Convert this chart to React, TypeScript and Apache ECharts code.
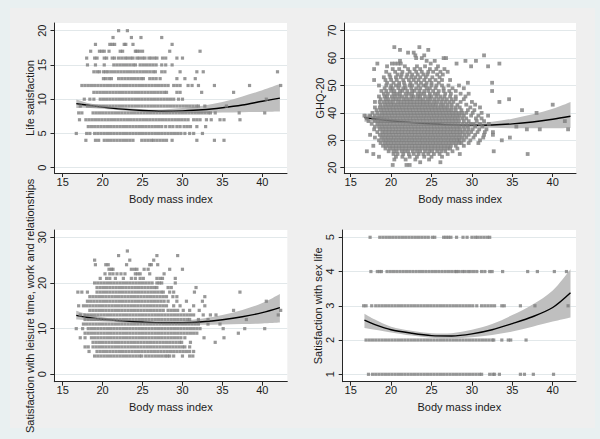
import React, { useEffect, useRef } from "react";
import * as echarts from "echarts";

// ---------- tick labels ----------
const bmiTicks = [15, 20, 25, 30, 35, 40];
const lifeTicks = [0, 5, 10, 15, 20];
const ghqTicks = [20, 30, 40, 50, 60, 70];
const leisureTicks = [0, 10, 20, 30];
const sexTicks = [1, 2, 3, 4, 5];

// ---------- quadratic fit + 95% CI ----------
const fitX = [16.7, 18, 20, 22.5, 25, 27.5, 30, 32.5, 35, 37.5, 40, 42.2];

const lifeFit = [9.35, 9.15, 8.85, 8.55, 8.35, 8.25, 8.3, 8.45, 8.75, 9.15, 9.7, 10.15];
const lifeUpper = [9.95, 9.5, 9.1, 8.75, 8.55, 8.5, 8.7, 9.05, 9.6, 10.4, 11.3, 12.2];
const lifeLower = [8.7, 8.75, 8.6, 8.35, 8.15, 8.05, 8.0, 8.0, 8.05, 8.1, 8.15, 8.2];

const ghqFit = [38.3, 37.8, 37.1, 36.5, 36.0, 35.6, 35.5, 35.6, 36.0, 36.7, 37.7, 38.8];
const ghqUpper = [39.8, 38.9, 37.8, 37.0, 36.4, 36.1, 36.2, 36.8, 37.9, 39.5, 41.5, 44.0];
const ghqLower = [36.8, 36.7, 36.4, 36.0, 35.6, 35.2, 34.8, 34.6, 34.4, 34.4, 34.4, 34.5];

const leisureFit = [12.9, 12.5, 12.05, 11.7, 11.45, 11.3, 11.3, 11.5, 11.95, 12.6, 13.5, 14.6];
const leisureUpper = [13.9, 13.2, 12.5, 12.0, 11.75, 11.65, 11.75, 12.2, 13.0, 14.1, 15.6, 17.6];
const leisureLower = [12.0, 11.85, 11.6, 11.35, 11.15, 10.95, 10.85, 10.85, 10.9, 11.0, 11.15, 11.35];

const sexFit = [2.58, 2.45, 2.3, 2.2, 2.13, 2.12, 2.18, 2.3, 2.48, 2.68, 2.95, 3.38];
const sexUpper = [2.77, 2.6, 2.39, 2.27, 2.2, 2.2, 2.3, 2.47, 2.73, 3.04, 3.45, 4.07];
const sexLower = [2.35, 2.3, 2.22, 2.13, 2.07, 2.05, 2.08, 2.15, 2.25, 2.39, 2.54, 2.66];

// ---------- observations: [score, BMI values] ----------
const lifeRows: [number, number[]][] = [
  [20, [22.0, 23.1]],
  [19, [21.3, 23.6, 24.8, 27.4]],
  [18, [19.1, 20.9, 21.2, 21.5, 22.7, 22.9, 23.8, 28.7]],
  [17, [18.5, 19.6, 19.9, 20.2, 20.8, 22.2, 22.5, 24.1, 24.3, 24.6, 25.0, 28.4, 32.2]],
  [16, [18.0, 19.0, 19.3, 20.2, 20.5, 21.2, 21.5, 22.0, 22.4, 22.8, 23.1, 23.5, 23.8, 24.3, 24.6, 25.0, 25.3, 25.8, 26.1, 26.5, 26.8, 27.5, 27.9, 29.3, 30.0]],
  [15, [18.1, 19.1, 20.2, 21.4, 21.8, 22.2, 22.6, 23.0, 23.4, 23.8, 24.1, 24.7, 25.1, 25.5, 25.9, 26.3, 26.7, 27.4, 27.9, 28.7]],
  [14, [18.9, 19.3, 19.6, 20.1, 20.4, 20.7, 21.1, 21.5, 21.9, 22.3, 22.7, 23.1, 23.5, 23.9, 24.3, 24.7, 25.1, 25.5, 25.9, 26.3, 26.6, 27.4, 27.8, 29.7, 31.8, 32.6, 41.9]],
  [13, [20.1, 20.4, 20.8, 21.1, 22.0, 22.4, 22.8, 23.2, 23.6, 24.0, 24.4, 24.8, 25.1, 25.9, 26.3, 26.7, 27.2, 29.3, 30.3, 31.6]],
  [12, [17.4, 17.8, 18.2, 18.6, 19.0, 19.4, 19.8, 20.2, 20.6, 21.0, 21.4, 21.8, 22.2, 22.6, 23.0, 23.4, 23.8, 24.2, 24.6, 25.0, 25.4, 25.8, 26.2, 26.6, 27.0, 27.4, 27.8, 28.2, 28.9, 29.3, 29.7, 30.7, 31.2, 32.0, 34.0, 38.4, 42.3]],
  [11, [18.9, 19.3, 19.7, 20.1, 20.5, 20.9, 21.3, 21.7, 22.1, 22.5, 22.9, 23.3, 23.7, 24.1, 24.5, 24.9, 25.3, 25.7, 26.1, 26.5, 26.9, 27.3, 27.7, 28.0, 29.3, 29.7, 32.4, 36.4]],
  [10, [17.7, 18.4, 18.9, 19.7, 20.1, 20.5, 20.9, 21.3, 21.7, 22.1, 22.5, 22.9, 23.3, 23.7, 24.1, 24.5, 24.9, 25.3, 25.7, 26.1, 26.5, 26.9, 27.3, 27.7, 28.1, 28.5, 28.9, 29.5, 30.0, 40.5]],
  [9, [17.2, 18.1, 18.5, 18.9, 19.3, 19.7, 20.1, 20.5, 20.9, 21.3, 21.7, 22.1, 22.5, 22.9, 23.3, 23.7, 24.1, 24.5, 24.9, 25.3, 25.7, 26.1, 26.5, 26.9, 27.3, 27.7, 28.1, 28.5, 28.9, 29.3, 29.7, 30.1, 30.5, 30.9, 31.3, 31.7, 32.0, 32.8, 35.5]],
  [8, [17.0, 17.4, 18.8, 19.2, 19.6, 20.0, 20.4, 20.8, 21.2, 21.6, 22.0, 22.4, 22.8, 23.2, 23.6, 24.0, 24.4, 24.8, 25.2, 25.6, 26.0, 26.4, 26.8, 27.2, 27.6, 28.0, 28.4, 28.8, 29.2, 29.6, 30.0, 30.4, 30.8, 31.2, 31.6, 32.0, 32.4, 32.8, 33.2, 33.5, 34.1, 37.1, 40.3]],
  [7, [17.1, 17.9, 18.3, 18.7, 19.1, 19.5, 19.9, 20.3, 20.7, 21.1, 21.5, 21.9, 22.3, 22.7, 23.1, 23.5, 23.9, 24.3, 24.7, 25.1, 25.5, 25.9, 26.3, 26.7, 27.1, 27.5, 27.9, 28.3, 28.7, 29.1, 29.5, 29.9, 30.3, 30.7, 31.4, 31.8, 32.2, 33.0, 33.6, 34.7, 35.2, 37.2]],
  [6, [18.2, 18.6, 19.0, 19.4, 19.8, 20.2, 20.6, 21.0, 21.4, 21.8, 22.2, 22.6, 23.0, 23.4, 23.8, 24.2, 24.6, 25.0, 25.4, 25.8, 26.2, 26.6, 27.0, 27.4, 27.9, 28.4, 28.8, 29.3, 29.7, 30.2, 30.6, 31.0, 31.8, 32.9]],
  [5, [16.7, 18.0, 18.4, 19.0, 19.4, 19.8, 20.2, 20.6, 21.0, 21.4, 21.8, 22.2, 22.6, 23.0, 23.4, 23.8, 24.2, 24.6, 25.0, 25.4, 25.8, 26.2, 26.6, 27.0, 27.4, 27.8, 28.2, 28.6, 29.0, 29.4, 29.8, 30.3, 30.9, 31.4, 32.5]],
  [4, [17.9, 19.1, 19.5, 20.2, 20.6, 21.0, 21.4, 21.8, 22.2, 22.6, 23.0, 23.4, 23.8, 24.9, 25.3, 25.7, 26.1, 26.4, 26.8, 27.2, 27.6, 28.0, 28.7, 31.8, 34.0, 35.2]],
];

const ghqRows: [number, number[]][] = [
  [64, [20.4, 23.5]],
  [63, [21.1, 24.6]],
  [62, [22.1, 22.8]],
  [61, [23.0, 24.1, 31.5]],
  [60, [23.1, 23.8, 26.5, 26.8]],
  [59, [21.1, 24.4, 25.4, 29.2, 30.5]],
  [58, [18.3, 20.1, 20.5, 20.9, 21.2, 24.9, 28.1, 33.4]],
  [57, [19.5, 21.7, 23.2, 24.2, 25.8, 29.9, 32.0]],
  [56, [17.9, 20.2, 21.0, 22.1, 22.9, 23.6, 24.8, 25.6, 26.6]],
  [55, [19.4, 20.5, 21.4, 22.3, 23.1, 23.8, 24.6, 25.2, 26.1, 27.0]],
  [54, [19.8, 20.8, 21.3, 22.0, 22.6, 23.3, 24.0, 24.5, 25.7, 26.4]],
  [53, [19.1, 19.9, 20.6, 21.2, 21.9, 22.5, 23.0, 23.6, 24.3, 25.1, 26.0]],
  [52, [17.9, 19.3, 20.0, 20.7, 21.5, 22.2, 22.8, 23.4, 24.1, 24.8, 25.5, 26.3, 27.3]],
  [51, [19.5, 20.3, 21.0, 21.6, 22.4, 23.1, 23.7, 24.4, 25.0, 25.9, 29.5, 32.5]],
  [50, [18.5, 19.4, 20.0, 20.6, 21.0, 21.7, 22.3, 22.6, 23.4, 24.0, 24.3, 25.0, 25.6, 26.3, 27.1, 28.4]],
  [49, [19.2, 19.9, 20.2, 20.9, 21.5, 21.8, 22.5, 23.1, 23.6, 24.4, 24.8, 25.5, 26.5, 27.6, 29.0]],
  [48, [18.8, 19.4, 20.0, 20.4, 21.1, 21.4, 22.0, 22.6, 22.9, 23.5, 24.1, 24.6, 25.2, 25.9, 26.5, 27.2, 28.0, 32.5]],
  [47, [19.1, 19.6, 20.3, 20.7, 21.1, 21.8, 22.2, 22.6, 23.3, 23.7, 24.1, 24.8, 25.4, 25.8, 26.7, 27.4, 28.6, 29.6]],
  [46, [18.5, 19.2, 19.5, 20.1, 20.5, 21.0, 21.4, 21.9, 22.5, 22.8, 23.3, 23.6, 24.2, 24.7, 25.0, 25.6, 26.1, 26.6, 27.3, 28.0, 29.2]],
  [45, [18.7, 19.3, 19.7, 20.2, 20.6, 21.0, 21.5, 21.9, 22.3, 22.7, 23.2, 23.6, 24.0, 24.5, 24.9, 25.4, 25.9, 26.4, 26.9, 27.5, 28.0, 29.0, 34.6]],
  [44, [18.0, 18.6, 19.1, 19.5, 19.9, 20.3, 20.8, 21.2, 21.6, 22.0, 22.4, 22.8, 23.2, 23.6, 24.0, 24.4, 24.8, 25.3, 25.7, 26.2, 26.7, 27.2, 27.7, 28.6, 30.0, 33.4]],
  [43, [18.7, 19.2, 19.6, 20.0, 20.4, 20.8, 21.2, 21.6, 22.0, 22.4, 22.8, 23.2, 23.6, 24.0, 24.4, 24.8, 25.2, 25.6, 26.1, 26.5, 27.0, 27.5, 28.2, 29.3, 30.4, 40.0]],
  [42, [18.0, 18.6, 19.0, 19.4, 19.8, 20.2, 20.6, 21.0, 21.4, 21.8, 22.2, 22.6, 23.0, 23.4, 23.8, 24.2, 24.6, 25.0, 25.4, 25.8, 26.2, 26.6, 27.0, 27.5, 28.0, 28.5, 29.8, 31.0]],
  [41, [18.2, 18.7, 19.1, 19.5, 19.9, 20.3, 20.7, 21.1, 21.5, 21.9, 22.3, 22.7, 23.1, 23.5, 23.9, 24.3, 24.7, 25.1, 25.5, 25.9, 26.3, 26.7, 27.1, 27.5, 28.0, 28.7, 29.5, 30.3, 36.2]],
  [40, [17.7, 18.3, 18.8, 19.2, 19.6, 20.0, 20.4, 20.8, 21.2, 21.6, 22.0, 22.4, 22.8, 23.2, 23.6, 24.0, 24.4, 24.8, 25.2, 25.6, 26.0, 26.4, 26.8, 27.2, 27.6, 28.0, 28.4, 28.8, 29.3, 30.1, 31.2, 38.0]],
  [39, [16.7, 17.4, 18.0, 18.5, 18.9, 19.3, 19.7, 20.1, 20.5, 20.9, 21.3, 21.7, 22.1, 22.5, 22.9, 23.3, 23.7, 24.1, 24.5, 24.9, 25.3, 25.7, 26.1, 26.5, 26.9, 27.3, 27.7, 28.1, 28.5, 29.0, 29.9, 30.8, 32.0]],
  [38, [17.0, 17.8, 18.3, 18.7, 19.1, 19.5, 19.9, 20.3, 20.7, 21.1, 21.5, 21.9, 22.3, 22.7, 23.1, 23.5, 23.9, 24.3, 24.7, 25.1, 25.5, 25.9, 26.3, 26.7, 27.1, 27.5, 27.9, 28.3, 28.8, 29.3, 30.5, 31.2]],
  [37, [17.2, 18.0, 18.4, 18.8, 19.2, 19.6, 20.0, 20.4, 20.8, 21.2, 21.6, 22.0, 22.4, 22.8, 23.2, 23.6, 24.0, 24.4, 24.8, 25.2, 25.6, 26.0, 26.4, 26.8, 27.2, 27.6, 28.0, 28.4, 29.0, 29.6, 30.6, 31.5, 41.5]],
  [36, [17.6, 18.3, 18.7, 19.1, 19.5, 19.9, 20.3, 20.7, 21.1, 21.5, 21.9, 22.3, 22.7, 23.1, 23.5, 23.9, 24.3, 24.7, 25.1, 25.5, 25.9, 26.3, 26.7, 27.1, 27.5, 27.9, 28.3, 28.8, 29.3, 29.8, 30.2, 31.0, 32.1]],
  [35, [18.0, 18.5, 18.9, 19.3, 19.7, 20.1, 20.5, 20.9, 21.3, 21.7, 22.1, 22.5, 22.9, 23.3, 23.7, 24.1, 24.5, 24.9, 25.3, 25.7, 26.1, 26.5, 26.9, 27.3, 27.7, 28.1, 28.5, 29.0, 29.5, 30.4, 31.3, 35.5]],
  [34, [17.9, 18.6, 19.0, 19.4, 19.8, 20.2, 20.6, 21.0, 21.4, 21.8, 22.2, 22.6, 23.0, 23.4, 23.8, 24.2, 24.6, 25.0, 25.4, 25.8, 26.2, 26.6, 27.0, 27.4, 27.8, 28.2, 28.6, 29.1, 29.6, 30.1, 30.9, 31.8, 36.8, 38.4, 41.9]],
  [33, [18.3, 18.9, 19.3, 19.7, 20.1, 20.5, 20.9, 21.3, 21.7, 22.1, 22.5, 22.9, 23.3, 23.7, 24.1, 24.5, 24.9, 25.3, 25.7, 26.1, 26.5, 26.9, 27.3, 27.7, 28.1, 28.5, 28.9, 29.4, 29.9, 30.7, 31.6, 32.6]],
  [32, [17.4, 18.6, 19.0, 19.4, 19.8, 20.2, 20.6, 21.0, 21.4, 21.8, 22.2, 22.6, 23.0, 23.4, 23.8, 24.2, 24.6, 25.0, 25.4, 25.8, 26.2, 26.6, 27.0, 27.4, 27.8, 28.2, 28.6, 29.1, 29.6, 30.4, 31.5, 32.6]],
  [31, [18.0, 18.8, 19.2, 19.6, 20.0, 20.4, 20.8, 21.2, 21.6, 22.0, 22.4, 22.8, 23.2, 23.6, 24.0, 24.4, 24.8, 25.2, 25.6, 26.0, 26.4, 26.8, 27.2, 27.6, 28.0, 28.4, 28.8, 29.3, 30.2, 31.4, 34.7]],
  [30, [18.5, 19.0, 19.4, 19.8, 20.2, 20.6, 21.0, 21.4, 21.8, 22.2, 22.6, 23.0, 23.4, 23.8, 24.2, 24.6, 25.0, 25.4, 25.8, 26.2, 26.6, 27.0, 27.4, 27.8, 28.2, 28.5, 29.0, 29.8, 31.0, 33.7]],
  [29, [18.7, 19.2, 19.6, 20.0, 20.4, 20.8, 21.2, 21.6, 22.0, 22.4, 22.8, 23.2, 23.6, 24.0, 24.4, 24.8, 25.2, 25.6, 26.0, 26.4, 26.8, 27.2, 27.6, 28.0, 28.4, 28.7, 29.6, 30.8]],
  [28, [17.8, 19.0, 19.4, 19.8, 20.2, 20.6, 21.0, 21.4, 21.8, 22.2, 22.6, 23.0, 23.4, 23.8, 24.2, 24.6, 25.0, 25.4, 25.8, 26.2, 26.6, 27.0, 27.4, 28.0, 29.0]],
  [27, [19.3, 19.8, 20.2, 20.6, 21.0, 21.4, 21.8, 22.2, 22.6, 23.0, 23.4, 23.8, 24.2, 24.6, 25.0, 25.4, 25.8, 26.2, 26.6, 27.0, 27.3, 28.2]],
  [26, [17.0, 19.7, 20.3, 20.7, 21.3, 21.7, 22.1, 22.7, 23.2, 23.6, 24.2, 24.7, 25.1, 25.7, 26.2, 26.7, 27.6, 32.7]],
  [25, [17.8, 20.3, 20.8, 21.5, 22.2, 22.8, 23.4, 24.0, 24.6, 25.3, 26.0, 27.0, 28.5, 36.9]],
  [24, [18.5, 20.6, 21.4, 22.3, 23.2, 24.1, 25.0, 26.3]],
  [23, [20.4, 21.8, 23.0, 24.7]],
  [22, [23.6, 26.1]],
  [21, [20.2, 21.9, 22.3]],
];

const leisureRows: [number, number[]][] = [
  [27, [23.1]],
  [26, [22.0, 26.8, 29.4]],
  [25, [19.0, 23.4, 26.4]],
  [24, [19.1, 20.4, 20.7, 23.0, 25.9, 26.1, 26.9]],
  [23, [20.8, 21.1, 21.3, 23.6, 24.0, 24.3, 25.2, 25.7, 28.4, 30.0]],
  [22, [20.3, 20.9, 21.3, 21.8, 22.3, 22.8, 24.1, 24.4, 24.7, 25.9, 27.7]],
  [21, [19.7, 20.5, 20.9, 21.6, 22.6, 23.6, 24.1, 24.7, 25.1, 26.8, 27.2, 27.5, 29.1]],
  [20, [19.0, 19.4, 19.8, 20.2, 20.6, 21.0, 21.4, 21.8, 22.2, 22.6, 23.0, 23.4, 23.8, 24.2, 24.6, 25.0, 25.4, 25.8, 26.2, 26.8, 27.1, 27.4, 29.1]],
  [19, [19.3, 19.7, 20.1, 20.5, 20.9, 21.3, 21.7, 22.1, 22.5, 22.9, 23.3, 23.7, 24.1, 24.5, 24.9, 25.3, 25.7, 26.1, 26.5, 26.8, 28.2, 28.6, 31.7]],
  [18, [16.9, 17.4, 18.1, 19.3, 19.7, 20.1, 20.5, 20.9, 21.3, 21.7, 22.1, 22.5, 22.9, 23.3, 23.7, 24.1, 24.5, 24.9, 25.3, 25.7, 26.1, 26.5, 26.9, 27.3, 27.6, 28.4, 28.9, 31.5, 37.2]],
  [17, [18.4, 18.8, 19.2, 19.6, 20.0, 20.4, 20.8, 21.2, 21.6, 22.0, 22.4, 22.8, 23.2, 23.6, 24.0, 24.4, 24.8, 25.2, 25.6, 26.0, 26.4, 26.8, 27.2, 27.6, 28.0, 28.8, 29.3, 32.8]],
  [16, [18.1, 18.5, 18.9, 19.3, 19.7, 20.1, 20.5, 20.9, 21.3, 21.7, 22.1, 22.5, 22.9, 23.3, 23.7, 24.1, 24.5, 24.9, 25.3, 25.7, 26.1, 26.5, 26.9, 27.3, 27.7, 28.2, 29.3, 30.5, 32.5, 40.5]],
  [15, [17.0, 17.6, 18.0, 18.4, 18.8, 19.2, 19.6, 20.0, 20.4, 20.8, 21.2, 21.6, 22.0, 22.4, 22.8, 23.2, 23.6, 24.0, 24.4, 24.8, 25.2, 25.6, 26.0, 26.4, 26.8, 27.2, 27.6, 28.0, 28.9, 29.7, 31.4, 32.8]],
  [14, [18.4, 18.8, 19.2, 19.6, 20.0, 20.4, 20.8, 21.2, 21.6, 22.0, 22.4, 22.8, 23.2, 23.6, 24.0, 24.4, 24.8, 25.2, 25.6, 26.0, 26.4, 26.8, 27.2, 27.6, 28.2, 28.6, 29.0, 29.4, 30.1, 30.9, 32.1, 36.4, 42.3]],
  [13, [17.2, 17.8, 18.2, 18.6, 19.0, 19.4, 19.8, 20.2, 20.6, 21.0, 21.4, 21.8, 22.2, 22.6, 23.0, 23.4, 23.8, 24.2, 24.6, 25.0, 25.4, 25.8, 26.2, 26.6, 27.0, 27.4, 27.8, 28.2, 28.6, 29.0, 29.4, 29.8, 30.2, 30.6, 31.0, 31.4, 32.6, 33.5, 34.2, 42.0]],
  [12, [17.8, 18.2, 18.6, 19.0, 19.4, 19.8, 20.2, 20.6, 21.0, 21.4, 21.8, 22.2, 22.6, 23.0, 23.4, 23.8, 24.2, 24.6, 25.0, 25.4, 25.8, 26.2, 26.6, 27.0, 27.4, 27.8, 28.2, 28.6, 29.0, 29.4, 29.8, 30.2, 30.6, 30.9, 32.0, 33.2, 38.0]],
  [11, [17.6, 18.0, 18.4, 18.8, 19.2, 19.6, 20.0, 20.4, 20.8, 21.2, 21.6, 22.0, 22.4, 22.8, 23.2, 23.6, 24.0, 24.4, 24.8, 25.2, 25.6, 26.0, 26.4, 26.8, 27.2, 27.6, 28.0, 28.4, 28.8, 29.2, 29.6, 30.0, 30.4, 30.8, 31.2, 31.6, 32.0, 33.2, 34.7]],
  [10, [16.7, 17.5, 18.2, 18.6, 19.0, 19.4, 19.8, 20.2, 20.6, 21.0, 21.4, 21.8, 22.2, 22.6, 23.0, 23.4, 23.8, 24.2, 24.6, 25.0, 25.4, 25.8, 26.2, 26.6, 27.0, 27.4, 27.8, 28.2, 28.6, 29.0, 29.4, 29.8, 30.2, 30.6, 31.0, 31.4, 31.8, 32.2, 35.1, 37.8, 40.3]],
  [9, [17.8, 18.2, 18.6, 19.0, 19.4, 19.8, 20.2, 20.6, 21.0, 21.4, 21.8, 22.2, 22.6, 23.0, 23.4, 23.8, 24.2, 24.6, 25.0, 25.4, 25.8, 26.2, 26.6, 27.0, 27.4, 27.8, 28.2, 28.6, 29.0, 29.4, 29.8, 30.2, 30.6, 31.0, 31.4, 31.8, 37.0]],
  [8, [17.2, 17.8, 18.6, 19.0, 19.4, 19.8, 20.2, 20.6, 21.0, 21.4, 21.8, 22.2, 22.6, 23.0, 23.4, 23.8, 24.2, 24.6, 25.0, 25.4, 25.8, 26.2, 26.6, 27.0, 27.4, 27.8, 28.2, 28.6, 29.0, 29.4, 29.8, 30.3, 32.7, 35.2]],
  [7, [18.8, 19.2, 19.6, 20.0, 20.4, 20.8, 21.2, 21.6, 22.0, 22.4, 22.8, 23.2, 23.6, 24.0, 24.4, 24.8, 25.2, 25.6, 26.0, 26.4, 26.8, 27.2, 27.6, 28.0, 28.4, 28.8, 29.2, 29.6, 29.9, 31.0, 34.1]],
  [6, [17.8, 18.2, 18.8, 19.2, 19.6, 20.0, 20.4, 20.8, 21.2, 21.6, 22.0, 22.4, 22.8, 23.2, 23.6, 24.0, 24.4, 24.8, 25.2, 25.6, 26.0, 26.4, 26.8, 27.2, 27.6, 28.0, 28.4, 28.8, 29.2, 29.6, 30.0, 30.3, 30.9]],
  [5, [18.3, 19.3, 19.7, 20.1, 20.5, 20.9, 21.3, 21.7, 22.1, 22.5, 22.9, 23.3, 23.7, 24.1, 24.5, 24.9, 25.3, 25.7, 26.1, 26.5, 26.9, 27.3, 27.7, 28.1, 28.5, 28.9, 29.3, 29.7, 30.1, 30.5, 30.9, 31.4]],
  [4, [19.0, 19.4, 19.8, 20.2, 20.6, 21.0, 21.4, 21.8, 22.2, 22.6, 23.0, 23.4, 23.8, 24.2, 24.6, 24.9, 25.4, 25.8, 26.2, 26.6, 27.0, 27.4, 27.8, 28.1, 28.4, 28.9, 30.0, 30.9, 31.3]],
];

const sexRows: [number, number[]][] = [
  [5, [17.4, 18.6, 19.0, 19.4, 19.8, 20.2, 20.6, 21.0, 21.4, 21.8, 22.2, 22.6, 23.0, 23.4, 23.8, 24.2, 24.6, 25.1, 25.4, 26.5, 26.8, 27.1, 27.4, 28.1, 28.9, 29.4, 30.0, 30.4, 30.7, 31.1, 31.5, 31.9, 32.2]],
  [4, [17.5, 18.3, 18.6, 18.8, 19.5, 19.9, 20.3, 20.7, 21.1, 21.5, 21.9, 22.3, 22.7, 23.1, 23.5, 23.9, 24.3, 24.7, 25.1, 25.5, 25.9, 26.3, 26.7, 27.1, 27.5, 27.9, 28.1, 28.4, 28.8, 29.1, 29.5, 29.8, 30.2, 30.6, 31.2, 31.6, 32.2, 32.5, 33.8, 36.9, 38.1, 40.2, 41.7]],
  [3, [16.6, 16.9, 17.6, 18.1, 18.5, 18.9, 19.3, 19.7, 20.1, 20.5, 20.9, 21.3, 21.7, 22.1, 22.5, 22.9, 23.3, 23.7, 24.1, 24.5, 24.9, 25.3, 25.7, 26.1, 26.5, 26.9, 27.3, 27.7, 28.1, 28.5, 28.9, 29.3, 29.7, 30.1, 30.6, 31.2, 31.6, 32.0, 32.4, 32.8, 33.7, 34.0, 36.0, 37.8, 41.9]],
  [2, [16.9, 17.3, 17.7, 18.1, 18.5, 18.9, 19.3, 19.7, 20.1, 20.5, 20.9, 21.3, 21.7, 22.1, 22.5, 22.9, 23.3, 23.7, 24.1, 24.5, 24.9, 25.3, 25.7, 26.1, 26.5, 26.9, 27.3, 27.7, 28.1, 28.5, 28.9, 29.3, 29.7, 30.1, 30.5, 30.9, 31.3, 31.7, 32.1, 32.5, 32.7, 33.7, 34.5, 34.8, 36.7]],
  [1, [17.2, 17.7, 18.1, 18.5, 18.9, 19.3, 19.7, 20.1, 20.5, 20.9, 21.3, 21.7, 22.1, 22.5, 22.9, 23.3, 23.7, 24.1, 24.5, 24.9, 25.3, 25.7, 26.1, 26.5, 26.9, 27.3, 27.7, 28.1, 28.5, 28.9, 29.3, 29.7, 30.1, 30.5, 30.9, 31.2, 32.2, 32.6, 32.8, 33.4, 36.0, 36.5, 37.6, 40.1]],
];

// ---------- layout / style ----------
const FONT = "'Liberation Sans', Arial, Helvetica, sans-serif";
const TEXT = "#1c1c1c";
const AXIS = "#262626";
const MARK = "#7e7e7e";
const BAND = "#bfbfbf";
const GRIDLINE = "#e2e8ea";

type Panel = {
  grid: { left: number; top: number; width: number; height: number };
  x: [number, number];
  y: [number, number];
  yTicks: number[];
  yName: string;
  rows: [number, number[]][];
  fit: number[];
  upper: number[];
  lower: number[];
  markSize: number;
};

const panels: Panel[] = [
  {
    grid: { left: 54.5, top: 23, width: 232.5, height: 150 },
    x: [13.97, 43.09], y: [-0.77, 21.12], yTicks: lifeTicks,
    yName: "Life satisfaction", rows: lifeRows, fit: lifeFit, upper: lifeUpper, lower: lifeLower, markSize: 3.2,
  },
  {
    grid: { left: 344.3, top: 23, width: 231.7, height: 150 },
    x: [14.21, 42.88], y: [18.07, 72.81], yTicks: ghqTicks,
    yName: "GHQ-20", rows: ghqRows, fit: ghqFit, upper: ghqUpper, lower: ghqLower, markSize: 3.8,
  },
  {
    grid: { left: 54.3, top: 230, width: 233, height: 151.7 },
    x: [13.95, 43.13], y: [-1.62, 31.6], yTicks: leisureTicks,
    yName: "Satisfaction with leisure time, work and relationships", rows: leisureRows,
    fit: leisureFit, upper: leisureUpper, lower: leisureLower, markSize: 3.2,
  },
  {
    grid: { left: 342.7, top: 230, width: 233.3, height: 151.7 },
    x: [14.01, 42.88], y: [0.784, 5.213], yTicks: sexTicks,
    yName: "Satisfaction with sex life", rows: sexRows, fit: sexFit, upper: sexUpper, lower: sexLower, markSize: 3.2,
  },
];

// Catmull-Rom -> cubic bezier path through pixel points
function smoothSegs(pts: number[][], start: boolean): string {
  let d = start ? `M${pts[0][0]},${pts[0][1]}` : `L${pts[0][0]},${pts[0][1]}`;
  for (let i = 0; i < pts.length - 1; i++) {
    const p0 = pts[Math.max(0, i - 1)];
    const p1 = pts[i];
    const p2 = pts[i + 1];
    const p3 = pts[Math.min(pts.length - 1, i + 2)];
    const c1x = p1[0] + (p2[0] - p0[0]) / 6;
    const c1y = p1[1] + (p2[1] - p0[1]) / 6;
    const c2x = p2[0] - (p3[0] - p1[0]) / 6;
    const c2y = p2[1] - (p3[1] - p1[1]) / 6;
    d += ` C${c1x},${c1y} ${c2x},${c2y} ${p2[0]},${p2[1]}`;
  }
  return d;
}

function buildOption() {
  const grid: any[] = [];
  const xAxis: any[] = [];
  const yAxis: any[] = [];
  const series: any[] = [];
  const textStyle = { fontFamily: FONT, fontSize: 11, color: TEXT };

  panels.forEach((p, i) => {
    grid.push({ ...p.grid, show: true, backgroundColor: "#ffffff", borderWidth: 0, containLabel: false });
    xAxis.push({
      type: "value", gridIndex: i, min: p.x[0], max: p.x[1],
      axisLine: { show: true, onZero: false, lineStyle: { color: AXIS, width: 1 } },
      axisTick: { show: true, length: 4, customValues: bmiTicks, lineStyle: { color: AXIS, width: 1 } },
      axisLabel: { customValues: bmiTicks, margin: 3, ...textStyle },
      splitLine: { show: false },
      name: "Body mass index", nameLocation: "middle", nameGap: 20,
      nameTextStyle: { ...textStyle },
    });
    yAxis.push({
      type: "value", gridIndex: i, min: p.y[0], max: p.y[1],
      axisLine: { show: true, onZero: false, lineStyle: { color: AXIS, width: 1 } },
      axisTick: { show: true, length: 4, customValues: p.yTicks, lineStyle: { color: AXIS, width: 1 } },
      axisLabel: { customValues: p.yTicks, rotate: 90, margin: 7, ...textStyle },
      splitLine: { show: true, lineStyle: { color: GRIDLINE, width: 1 } },
      name: p.yName, nameLocation: "middle", nameGap: 19, nameRotate: 90,
      nameTextStyle: { ...textStyle },
    });

    // confidence band as one smooth closed path
    const upper = p.upper;
    const lower = p.lower;
    series.push({
      type: "custom", xAxisIndex: i, yAxisIndex: i, data: [[fitX[0], upper[0]]],
      silent: true, z: 2, clip: true,
      renderItem: (_params: any, api: any) => {
        const up = fitX.map((x, k) => api.coord([x, upper[k]]));
        const lo = fitX.map((x, k) => api.coord([x, lower[k]])).reverse();
        const d = smoothSegs(up, true) + " " + smoothSegs(lo, false) + " Z";
        return { type: "path", shape: { pathData: d }, style: { fill: BAND, stroke: "none" } };
      },
    });
    series.push({
      type: "line", xAxisIndex: i, yAxisIndex: i, data: fitX.map((x, k) => [x, p.fit[k]]),
      showSymbol: false, smooth: 0.3, lineStyle: { color: "#000000", width: 1.4 }, silent: true, z: 3,
    });
    const pts: number[][] = [];
    p.rows.forEach(([yv, xs]) => xs.forEach((xv) => pts.push([xv, yv])));
    series.push({
      type: "scatter", xAxisIndex: i, yAxisIndex: i, data: pts,
      symbol: "rect", symbolSize: p.markSize, itemStyle: { color: MARK }, silent: true, z: 4,
    });
  });

  return { animation: false, grid, xAxis, yAxis, series, tooltip: { show: false } };
}

export default function App() {
  const ref = useRef<HTMLDivElement>(null);
  useEffect(() => {
    if (!ref.current) return;
    const chart = echarts.init(ref.current, null, { renderer: "svg" });
    chart.setOption(buildOption());
    return () => chart.dispose();
  }, []);
  return (
    <div style={{ position: "absolute", left: 0, top: 0, width: 600, height: 439, background: "#e9f0f1", overflow: "hidden" }}>
      <div style={{ position: "absolute", left: 10, top: 8, width: 585, height: 420, background: "#efefef" }} />
      <div ref={ref} style={{ position: "absolute", left: 0, top: 0, width: 600, height: 439 }} />
    </div>
  );
}
